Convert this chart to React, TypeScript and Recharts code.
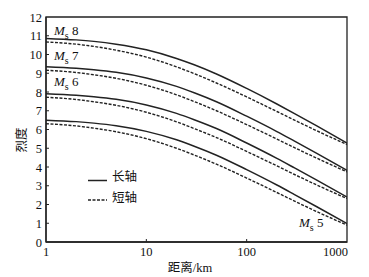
import React from 'react';
import { ComposedChart, Line, XAxis, YAxis, ReferenceArea } from 'recharts';

const distances = [1, 2, 3, 5, 10, 20, 30, 50, 100, 200, 300, 500, 1000];
const ms8Long = [10.86, 10.78, 10.7, 10.55, 10.25, 9.79, 9.45, 8.96, 8.19, 7.36, 6.85, 6.19, 5.28];
const ms8Short = [10.67, 10.55, 10.43, 10.23, 9.86, 9.34, 8.98, 8.48, 7.74, 6.96, 6.5, 5.93, 5.2];
const ms7Long = [9.35, 9.27, 9.19, 9.05, 8.75, 8.3, 7.96, 7.48, 6.71, 5.89, 5.38, 4.73, 3.82];
const ms7Short = [9.16, 9.04, 8.92, 8.73, 8.36, 7.85, 7.49, 7.0, 6.26, 5.49, 5.03, 4.47, 3.74];
const ms6Long = [7.91, 7.83, 7.75, 7.61, 7.31, 6.86, 6.52, 6.05, 5.28, 4.46, 3.95, 3.3, 2.4];
const ms6Short = [7.72, 7.6, 7.48, 7.29, 6.92, 6.41, 6.05, 5.57, 4.83, 4.06, 3.6, 3.04, 2.32];
const ms5Long = [6.5, 6.42, 6.34, 6.2, 5.9, 5.45, 5.11, 4.63, 3.86, 3.04, 2.53, 1.88, 0.98];
const ms5Short = [6.31, 6.19, 6.07, 5.88, 5.51, 5.0, 4.64, 4.15, 3.41, 2.64, 2.18, 1.62, 0.9];

const xTicks = [1, 10, 100, 1000];
const yTicks = [0, 1, 2, 3, 4, 5, 6, 7, 8, 9, 10, 11, 12];
const magLabels = ['8', '7', '6', '5'];
const legendLong = '长轴';
const legendShort = '短轴';
const xTitle = '距离/km';
const yTitle = '烈度';

const data = distances.map((d, i) => ({
  d,
  l8: ms8Long[i], s8: ms8Short[i],
  l7: ms7Long[i], s7: ms7Short[i],
  l6: ms6Long[i], s6: ms6Short[i],
  l5: ms5Long[i], s5: ms5Short[i],
}));

const FONT = "'Liberation Serif', 'Noto Sans CJK SC', serif";
const INK = '#222';

const XTick = (props: any) => {
  const { x, y, payload } = props;
  const v = payload.value;
  const anchor = v === 1000 ? 'end' : 'middle';
  const tx = v === 1000 ? x + 1 : x;
  return (
    <g>
      {v !== 1 && v !== 1000 && <line x1={x} y1={y} x2={x} y2={y - 3} stroke={INK} strokeWidth={1} />}
      <text x={tx} y={y + 14} textAnchor={anchor} fontSize={12.5} fontFamily={FONT} fill="#111">{v}</text>
    </g>
  );
};

const YTick = (props: any) => {
  const { x, y, payload } = props;
  const v = payload.value;
  return (
    <g>
      {v !== 0 && v !== 12 && <line x1={x} y1={y} x2={x + 3} y2={y} stroke={INK} strokeWidth={1} />}
      <text x={x - 4} y={y + 4.5} textAnchor="end" fontSize={12.5} fontFamily={FONT} fill="#111">{v}</text>
    </g>
  );
};

const MsLabel = ({ x, y, m }: { x: number; y: number; m: string }) => (
  <text x={x} y={y} fontSize={13} fontFamily={FONT} fill="#111">
    <tspan fontStyle="italic">M</tspan>
    <tspan dy={4} fontSize={10}>s</tspan>
    <tspan dy={-4}>{' ' + m}</tspan>
  </text>
);

export default function App() {
  const lineProps = { type: 'monotone' as const, dot: false, isAnimationActive: false, stroke: INK };
  return (
    <div style={{ position: 'fixed', left: 0, top: 0, width: 369, height: 277, background: '#fff' }}>
      <ComposedChart width={369} height={277} data={data} margin={{ top: 17, right: 22, left: 0, bottom: 0 }}>
        <XAxis
          dataKey="d"
          type="number"
          scale="log"
          domain={[1, 1000]}
          ticks={xTicks}
          allowDataOverflow
          height={35}
          tickSize={0}
          tickMargin={0}
          tick={<XTick />}
          axisLine={{ stroke: INK, strokeWidth: 1.3 }}
          tickLine={false}
        />
        <YAxis
          type="number"
          domain={[0, 12]}
          ticks={yTicks}
          width={46}
          tickSize={0}
          tickMargin={0}
          tick={<YTick />}
          axisLine={{ stroke: INK, strokeWidth: 1.3 }}
          tickLine={false}
          interval={0}
        />
        <ReferenceArea x1={1} x2={1000} y1={0} y2={12} fill="none" stroke={INK} strokeWidth={1.3} ifOverflow="visible" />
        <Line dataKey="l8" {...lineProps} strokeWidth={1.5} />
        <Line dataKey="s8" {...lineProps} strokeWidth={1.4} strokeDasharray="3 1.5" />
        <Line dataKey="l7" {...lineProps} strokeWidth={1.5} />
        <Line dataKey="s7" {...lineProps} strokeWidth={1.4} strokeDasharray="3 1.5" />
        <Line dataKey="l6" {...lineProps} strokeWidth={1.5} />
        <Line dataKey="s6" {...lineProps} strokeWidth={1.4} strokeDasharray="3 1.5" />
        <Line dataKey="l5" {...lineProps} strokeWidth={1.5} />
        <Line dataKey="s5" {...lineProps} strokeWidth={1.4} strokeDasharray="3 1.5" />
      </ComposedChart>
      <svg width={369} height={277} style={{ position: 'absolute', left: 0, top: 0, pointerEvents: 'none' }}>
        <MsLabel x={54} y={35} m={magLabels[0]} />
        <MsLabel x={54} y={60} m={magLabels[1]} />
        <MsLabel x={54} y={86} m={magLabels[2]} />
        <MsLabel x={299} y={227} m={magLabels[3]} />
        <line x1={88} y1={180.5} x2={107} y2={180.5} stroke={INK} strokeWidth={1.5} />
        <text x={112} y={181} fontSize={12.5} fontFamily={FONT} fill="#111">{legendLong}</text>
        <line x1={88} y1={200} x2={107} y2={200} stroke={INK} strokeWidth={1.4} strokeDasharray="3 1.5" />
        <text x={112} y={202} fontSize={12.5} fontFamily={FONT} fill="#111">{legendShort}</text>
        <text x={190} y={272} textAnchor="middle" fontSize={12.5} fontFamily={FONT} fill="#111">{xTitle}</text>
        <text x={0} y={0} transform="translate(26,140) rotate(-90)" textAnchor="middle" fontSize={12.5} fontFamily={FONT} fill="#111">{yTitle}</text>
      </svg>
    </div>
  );
}
